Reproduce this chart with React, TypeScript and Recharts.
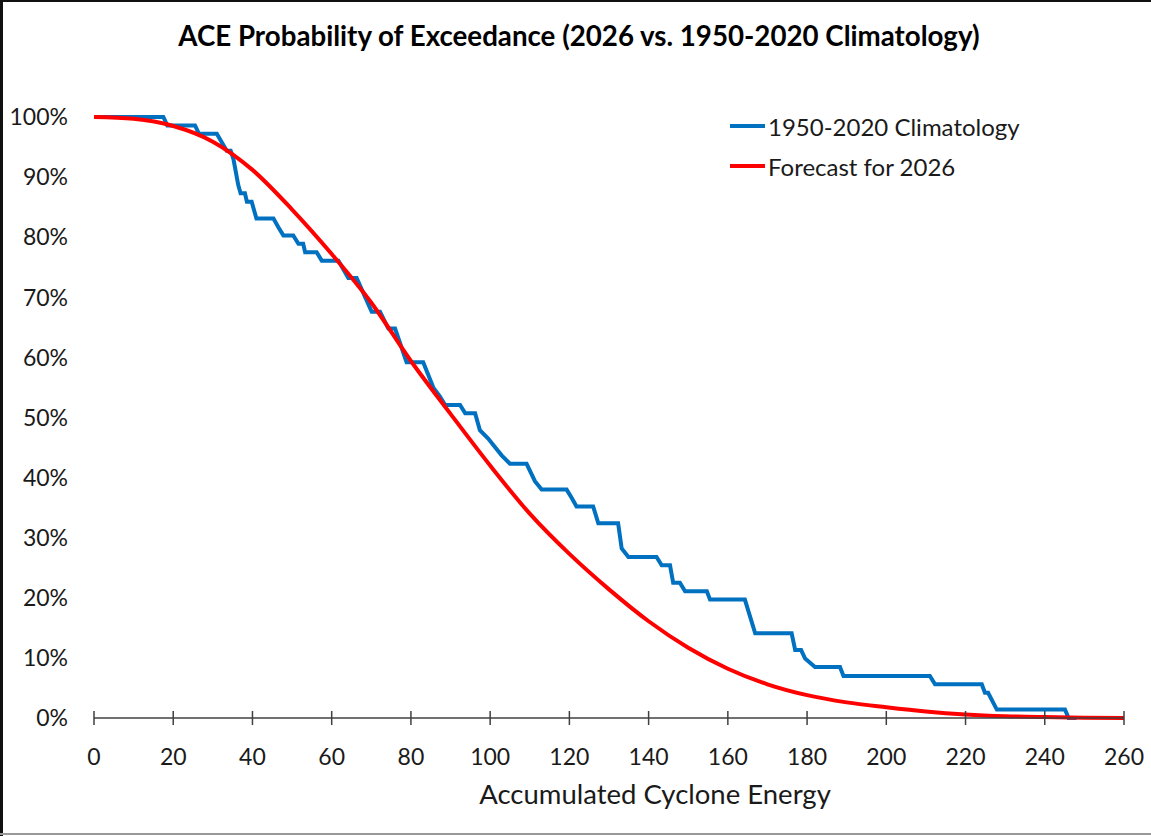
import { LineChart, Line, XAxis, YAxis } from 'recharts'

// 1950-2020 climatology: corners of the step curve (ACE, % exceeding)
const climAce = [
  0, 17.5, 18.5, 25.5, 26.5, 31, 33.5, 34.5, 35.2, 36.4, 37, 38.1, 38.6, 39.8, 41, 45.3, 46.5,
  47.8, 50.3, 51.6, 52.8, 53.3, 56.2, 57.5, 61.7, 64.2, 66.3, 70.1, 72.2, 74.3, 76, 78.9, 83.1,
  85.7, 87.3, 88.6, 92.4, 93.7, 96.2, 97.4, 99.5, 101.2, 102.9, 105, 109.2, 111.3, 113, 119.3,
  120.6, 121.8, 126, 127.3, 132.3, 133.2, 134.9, 142, 143.3, 145.4, 146.2, 147.9, 149.2, 154.7,
  155.5, 164.3, 166.9, 176.1, 177, 178.5, 179.5, 182, 188.3, 189.2, 211, 212.3, 224.1, 224.9,
  225.7, 227.9, 245.1, 246, 248,
]
const climPct = [
  100, 100, 98.6, 98.6, 97.2, 97.2, 94.4, 94.4, 93.0, 88.7, 87.3, 87.3, 85.9, 85.9, 83.1, 83.1,
  81.7, 80.3, 80.3, 78.9, 78.9, 77.5, 77.5, 76.1, 76.1, 73.2, 73.2, 67.6, 67.6, 64.8, 64.8, 59.2,
  59.2, 54.9, 53.5, 52.1, 52.1, 50.7, 50.7, 47.9, 46.5, 45.1, 43.7, 42.3, 42.3, 39.4, 38.0, 38.0,
  36.6, 35.2, 35.2, 32.4, 32.4, 28.2, 26.8, 26.8, 25.4, 25.4, 22.5, 22.5, 21.1, 21.1, 19.7, 19.7,
  14.1, 14.1, 11.3, 11.3, 9.9, 8.5, 8.5, 7.0, 7.0, 5.6, 5.6, 4.2, 4.2, 1.4, 1.4, 0, 0,
]

// forecast for 2026
const fcAce = [0, 10, 20, 30, 40, 50, 60, 70, 80, 90, 100, 110, 120, 130, 140, 150, 160, 170, 180, 190, 200, 210, 220, 230, 240, 250, 260]
const fcPct = [100, 99.7, 98.5, 95.9, 91.2, 84.6, 77.2, 69.1, 59.4, 50.6, 42.0, 34.0, 27.3, 21.4, 16.1, 11.7, 8.2, 5.6, 3.8, 2.6, 1.8, 1.1, 0.6, 0.3, 0.15, 0.05, 0]

const xTicks = [0, 20, 40, 60, 80, 100, 120, 140, 160, 180, 200, 220, 240, 260]
const yTicks = [0, 10, 20, 30, 40, 50, 60, 70, 80, 90, 100]

const climData = climAce.map((ace, i) => ({ ace, pct: climPct[i] }))
const fcData = fcAce.map((ace, i) => ({ ace, pct: fcPct[i] }))

const FONT = 'Lato, "Open Sans", sans-serif'
const TEXT = '#1a1a1a'
const BLUE = '#0070c0'
const RED = '#ff0000'

function XTick(props: any) {
  const { x, y, payload } = props
  return (
    <g>
      <line x1={x} x2={x} y1={y - 7} y2={y + 7} stroke="#404040" strokeWidth={1.5} />
      <text x={x} y={y + 47} textAnchor="middle" fill={TEXT} fontSize={23} fontFamily={FONT}>
        {payload.value}
      </text>
    </g>
  )
}

function YTick(props: any) {
  const { x, y, payload } = props
  return (
    <text x={x} y={y} dy="0.36em" textAnchor="end" fill={TEXT} fontSize={23} fontFamily={FONT}>
      {`${payload.value}%`}
    </text>
  )
}

const legendItems = [
  { label: '1950-2020 Climatology', color: BLUE },
  { label: 'Forecast for 2026', color: RED },
]

export default function App() {
  return (
    <div style={{ position: 'relative', width: 1151, height: 836, background: '#fff' }}>
      <style>{'body{margin:0}'}</style>
      <div
        style={{
          position: 'absolute',
          top: 19,
          left: 0,
          width: 1158,
          textAlign: 'center',
          fontFamily: FONT,
          fontWeight: 700,
          fontSize: 27.7,
          color: '#000',
        }}
      >
        ACE Probability of Exceedance (2026 vs. 1950-2020 Climatology)
      </div>
      <LineChart
        width={1151}
        height={836}
        margin={{ top: 117, right: 27, bottom: 0, left: 0 }}
      >
        <XAxis
          dataKey="ace"
          type="number"
          domain={[0, 260]}
          ticks={xTicks}
          interval={0}
          height={118}
          tickSize={0}
          tickMargin={0}
          tickLine={false}
          axisLine={{ stroke: '#404040', strokeWidth: 1.5 }}
          tick={<XTick />}
          allowDuplicatedCategory={false}
        />
        <YAxis
          type="number"
          domain={[0, 100]}
          ticks={yTicks}
          interval={0}
          width={94}
          tickSize={0}
          tickMargin={26}
          tickLine={false}
          axisLine={false}
          tick={<YTick />}
        />
        <Line
          data={climData}
          dataKey="pct"
          type="linear"
          stroke={BLUE}
          strokeWidth={4}
          dot={false}
          isAnimationActive={false}
        />
        <Line
          data={fcData}
          dataKey="pct"
          type="monotone"
          stroke={RED}
          strokeWidth={4}
          dot={false}
          isAnimationActive={false}
        />
      </LineChart>
      <div
        style={{
          position: 'absolute',
          top: 106,
          left: 730,
          fontFamily: FONT,
          fontSize: 24,
          color: TEXT,
        }}
      >
        {legendItems.map(item => (
          <div key={item.label} style={{ display: 'flex', alignItems: 'center', height: 40 }}>
            <span style={{ width: 35, height: 4, background: item.color, marginRight: 3 }} />
            <span>{item.label}</span>
          </div>
        ))}
      </div>
      <div
        style={{
          position: 'absolute',
          top: 777,
          left: 455,
          width: 400,
          textAlign: 'center',
          fontFamily: FONT,
          fontSize: 27.5,
          color: TEXT,
        }}
      >
        Accumulated Cyclone Energy
      </div>
      <div style={{ position: 'absolute', left: 0, top: 0, width: 3, height: 836, background: '#111' }} />
      <div style={{ position: 'absolute', left: 0, top: 0, width: 1151, height: 2, background: '#111' }} />
      <div style={{ position: 'absolute', left: 0, top: 833, width: 1151, height: 2, background: '#999' }} />
    </div>
  )
}
